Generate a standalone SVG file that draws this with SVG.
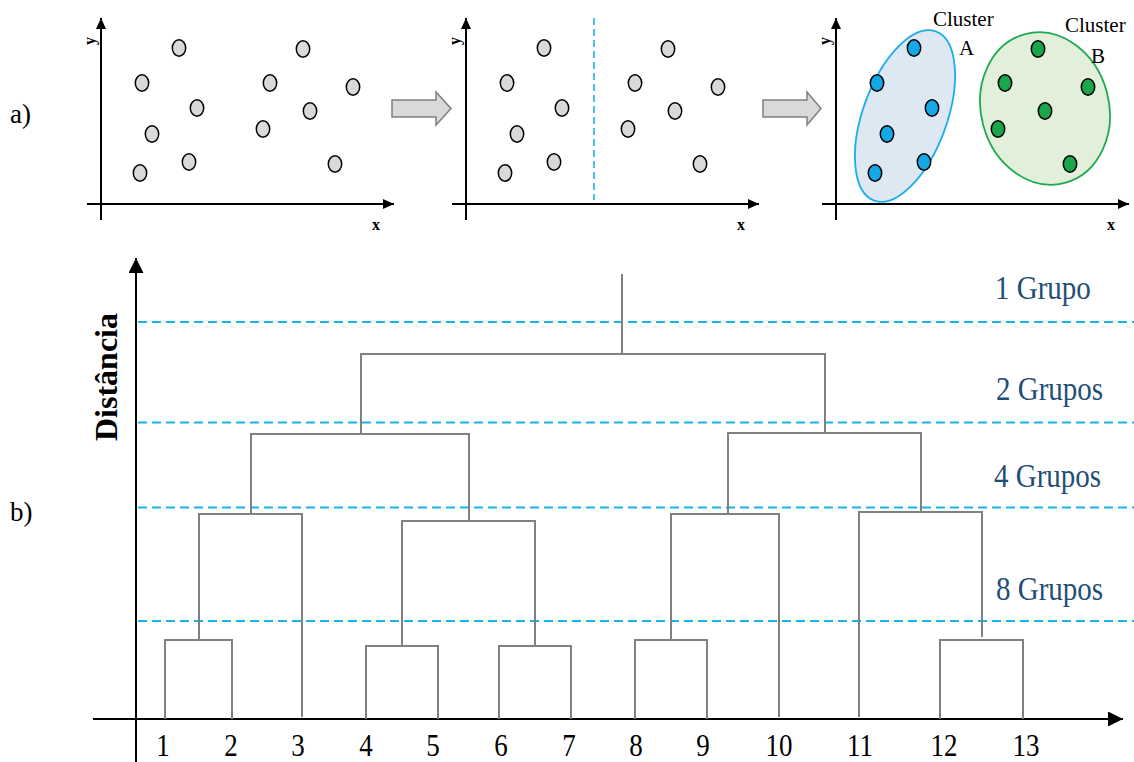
<svg xmlns="http://www.w3.org/2000/svg" xmlns:xlink="http://www.w3.org/1999/xlink" width="1134" height="762" viewBox="0 0 1134 762">
<style>
.ax{stroke:#000;stroke-width:2;fill:none}
.dg{stroke:#808080;stroke-width:2;fill:none}
.dash{stroke:#17b3ea;stroke-width:2;stroke-dasharray:9 5;fill:none}
.vdash{stroke:#17b3ea;stroke-width:1.6;stroke-dasharray:7 4;fill:none}
.dot{stroke:#000;stroke-width:1.5}
.g{fill:#d9d9d9}
.b{fill:#14a9e6}
.gr{fill:#1aa64a}
.serif{font-family:"Liberation Serif","Times New Roman",serif}
.axl{font-family:"Liberation Serif","Times New Roman",serif;font-weight:bold;font-size:16px;fill:#000}
.grp{font-family:"Liberation Serif","Times New Roman",serif;font-size:29px;fill:#1f4e79}
.num{font-family:"Liberation Serif","Times New Roman",serif;font-size:27px;fill:#000;text-anchor:middle}
.clu{font-family:"Liberation Serif","Times New Roman",serif;font-size:21px;fill:#000}
.blk{fill:#d9d9d9;stroke:#7f7f7f;stroke-width:1.5}
</style>
<defs>
<marker id="ahs" viewBox="0 0 11 10" refX="11" refY="5" markerWidth="11" markerHeight="10" markerUnits="userSpaceOnUse" orient="auto">
<path d="M0,0 L11,5 L0,10 z" fill="#000"/>
</marker>
<marker id="ahb" viewBox="0 0 15 15" refX="15" refY="7.5" markerWidth="15" markerHeight="15" markerUnits="userSpaceOnUse" orient="auto">
<path d="M0,0 L15,7.5 L0,15 z" fill="#000"/>
</marker>
<g id="axes">
<line class="ax" x1="101" y1="220" x2="101" y2="18" marker-end="url(#ahs)"/>
<line class="ax" x1="87" y1="204" x2="394" y2="204" marker-end="url(#ahs)"/>
<text class="axl" transform="translate(95,41) rotate(-90)" text-anchor="middle">y</text>
<text class="axl" x="376" y="230" text-anchor="middle">x</text>
</g>
<g id="ptsL">
<ellipse cx="179" cy="48" rx="6.7" ry="8.2"/>
<ellipse cx="142" cy="83" rx="6.7" ry="8.2"/>
<ellipse cx="197" cy="108" rx="6.7" ry="8.2"/>
<ellipse cx="152" cy="134" rx="6.7" ry="8.2"/>
<ellipse cx="140" cy="173" rx="6.7" ry="8.2"/>
<ellipse cx="189" cy="162" rx="6.7" ry="8.2"/>
</g>
<g id="ptsR">
<ellipse cx="303" cy="49" rx="6.7" ry="8.2"/>
<ellipse cx="270" cy="83" rx="6.7" ry="8.2"/>
<ellipse cx="353" cy="87" rx="6.7" ry="8.2"/>
<ellipse cx="310" cy="111" rx="6.7" ry="8.2"/>
<ellipse cx="263" cy="129" rx="6.7" ry="8.2"/>
<ellipse cx="335" cy="164" rx="6.7" ry="8.2"/>
</g>
</defs>

<text class="serif" x="10" y="123" font-size="27">a)</text>
<text class="serif" x="10" y="521" font-size="27">b)</text>

<g id="panel1">
<use xlink:href="#axes"/>
<g class="dot g"><use xlink:href="#ptsL"/><use xlink:href="#ptsR"/></g>
</g>

<g id="arrow1">
<path class="blk" d="M392,100 H436 V92 L451,108.5 L436,125 V117 H392 Z"/>
</g>

<g id="panel2" >
<g transform="translate(365,0)">
<use xlink:href="#axes"/>
<g class="dot g"><use xlink:href="#ptsL"/><use xlink:href="#ptsR"/></g>
</g>
<line class="vdash" x1="594" y1="18" x2="594" y2="200"/>
</g>

<g id="arrow2">
<path class="blk" d="M763,100 H807 V92 L821,108.5 L807,125 V117 H763 Z"/>
</g>

<g id="panel3">
<g transform="translate(735,0)"><use xlink:href="#axes"/></g>
<ellipse cx="905" cy="116" rx="42" ry="90" transform="rotate(20 905 116)" fill="#dee8f3" stroke="#1aaee8" stroke-width="1.8"/>
<ellipse cx="1045" cy="108.5" rx="64" ry="77" transform="rotate(-15 1045 108.5)" fill="#e2efda" stroke="#1eaa50" stroke-width="1.8"/>
<g transform="translate(735,0)">
<g class="dot b"><use xlink:href="#ptsL"/></g>
<g class="dot gr"><use xlink:href="#ptsR"/></g>
</g>
<text class="clu" x="933" y="26">Cluster</text>
<text class="clu" x="959" y="55">A</text>
<text class="clu" x="1065" y="32">Cluster</text>
<text class="clu" x="1091" y="63">B</text>
</g>

<g id="dendro-axes">
<line class="ax" x1="136" y1="762" x2="136" y2="258" marker-end="url(#ahb)"/>
<line class="ax" x1="93" y1="719" x2="1123" y2="719" marker-end="url(#ahb)"/>
<text class="serif" transform="translate(117,377) rotate(-90)" text-anchor="middle" font-size="32" font-weight="bold">Distância</text>
</g>

<g id="cutlines">
<line class="dash" x1="138" y1="322" x2="1134" y2="322"/>
<line class="dash" x1="138" y1="422.5" x2="1134" y2="422.5"/>
<line class="dash" x1="138" y1="507.5" x2="1134" y2="507.5"/>
<line class="dash" x1="138" y1="621" x2="1134" y2="621"/>
</g>

<g id="connectors">
<path class="dg" d="M165,719 V640 H232 V719"/>
<path class="dg" d="M199,640 V514 H302 V717"/>
<path class="dg" d="M251,514 V434 H469 V521"/>
<path class="dg" d="M366,719 V646 H438 V719"/>
<path class="dg" d="M499,719 V646 H571 V719"/>
<path class="dg" d="M402,646 V521 H535 V646"/>
<path class="dg" d="M361,434 V354 H825 V433"/>
<path class="dg" d="M622,354 V274"/>
<path class="dg" d="M635,719 V640 H707 V719"/>
<path class="dg" d="M671,640 V514 H779 V717"/>
<path class="dg" d="M728,514 V433 H921 V512"/>
<path class="dg" d="M940,719 V640 H1023 V719"/>
<path class="dg" d="M859,717 V512 H982 V637"/>
</g>

<g id="group-labels">
<text class="grp" transform="translate(995,299) scale(1,1.16)">1 Grupo</text>
<text class="grp" transform="translate(996,400) scale(1,1.16)">2 Grupos</text>
<text class="grp" transform="translate(994,487) scale(1,1.16)">4 Grupos</text>
<text class="grp" transform="translate(996,600) scale(1,1.16)">8 Grupos</text>
</g>

<g id="leaf-labels">
<text class="num" transform="translate(163,756) scale(1,1.18)">1</text>
<text class="num" transform="translate(231,756) scale(1,1.18)">2</text>
<text class="num" transform="translate(298,756) scale(1,1.18)">3</text>
<text class="num" transform="translate(366,756) scale(1,1.18)">4</text>
<text class="num" transform="translate(433,756) scale(1,1.18)">5</text>
<text class="num" transform="translate(501,756) scale(1,1.18)">6</text>
<text class="num" transform="translate(569,756) scale(1,1.18)">7</text>
<text class="num" transform="translate(636,756) scale(1,1.18)">8</text>
<text class="num" transform="translate(703,756) scale(1,1.18)">9</text>
<text class="num" transform="translate(779,756) scale(1,1.18)">10</text>
<text class="num" transform="translate(860,756) scale(1,1.18)">11</text>
<text class="num" transform="translate(944,756) scale(1,1.18)">12</text>
<text class="num" transform="translate(1026,756) scale(1,1.18)">13</text>
</g>
</svg>
